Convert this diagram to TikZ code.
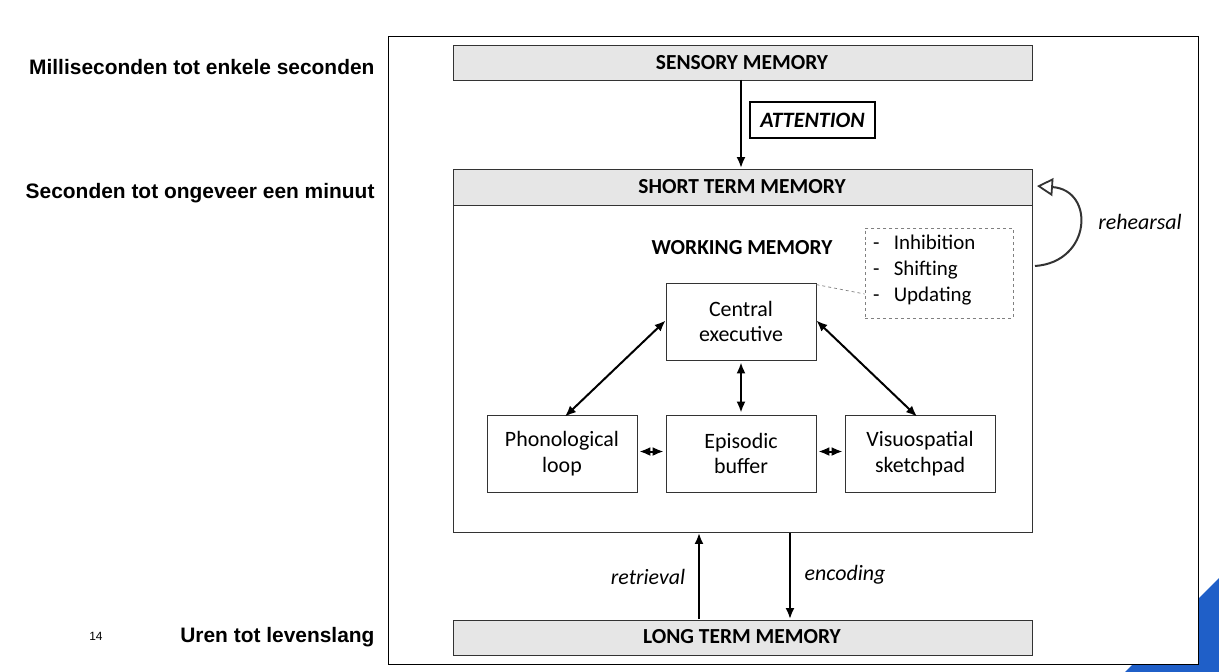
\documentclass[tikz,border=0pt]{standalone}
\usepackage{fontspec}
\setmainfont{Carlito}
\newfontfamily\arialf{Liberation Sans}
\usetikzlibrary{arrows.meta}
\definecolor{hdr}{HTML}{E6E6E6}
\definecolor{bl}{HTML}{1F5FC8}
\definecolor{ln}{HTML}{333333}
\begin{document}
\begin{tikzpicture}[x=1bp,y=-1bp,
  box/.style={draw=ln,line width=0.8pt,fill=white},
  gbox/.style={draw=ln,line width=1pt,fill=hdr},
  ttl/.style={font=\fontsize{21.5}{24}\selectfont\bfseries},
  txt/.style={font=\fontsize{22}{26}\selectfont,align=center},
  arr/.style={line width=2pt,-{Latex[length=11pt,width=9pt]}},
  darr/.style={line width=2pt,{Latex[length=11pt,width=9pt]}-{Latex[length=11pt,width=9pt]}},
  lbl/.style={font=\fontsize{22}{26}\selectfont\itshape},
  side/.style={font=\arialf\fontsize{21}{24}\selectfont\bfseries,anchor=east}]
\useasboundingbox (0,0) rectangle (1219,672);
\fill[bl] (1219,578) -- (1125,672) -- (1219,672) -- cycle;
\draw[fill=white,line width=1pt] (388,36) rectangle (1198,664);
% side labels
\node[side] (s1) at (378,67) {Milliseconden tot enkele seconden};
\node[side] (s2) at (378,193) {Seconden tot ongeveer een minuut};
\node[side] (s3) at (378,637) {Uren tot levenslang};
\node[font=\arialf\fontsize{12}{14}\selectfont] (pg) at (96,636) {14};
% sensory
\draw[gbox] (453,45) rectangle (1032,80);
\node[ttl] (sm) at (742,63) {SENSORY MEMORY};
\coordinate (smb) at (741,80);
\coordinate (stt) at (741,168);
\draw[arr] (smb) -- (stt);
\node[draw=black,line width=2pt,minimum width=125bp,minimum height=36bp,inner sep=0pt,font=\fontsize{22}{26}\selectfont\bfseries\itshape] (att) at (812.5,120) {ATTENTION};
% STM
\draw[box,line width=1pt] (453,169) rectangle (1032,532);
\draw[gbox] (453,169) rectangle (1032,205);
\node[ttl] (stm) at (742,187) {SHORT TERM MEMORY};
\node[ttl] (wm) at (742,248) {WORKING MEMORY};
\node[draw=gray,dashed,line width=0.7pt,minimum width=148bp,minimum height=90bp,inner sep=0pt] (ex) at (939,273) {};
\node[font=\fontsize{21}{26}\selectfont,align=left,anchor=north west,inner sep=0pt] (exl) at (873,235) {-\ \ \ Inhibition\\-\ \ \ Shifting\\-\ \ \ Updating};
\node[box,minimum width=150bp,minimum height=77bp,txt] (ce) at (741,321.5) {Central\\executive};
\draw[gray,dashed,line width=0.7pt] (ce.north east) ++(0,2) -- (ex.west |- 0,294);
\node[box,minimum width=150bp,minimum height=77bp,txt] (pl) at (562,453.5) {Phonological\\loop};
\node[box,minimum width=150bp,minimum height=77bp,txt] (eb) at (741,453.5) {Episodic\\buffer};
\node[box,minimum width=150bp,minimum height=77bp,txt] (vs) at (920,453.5) {Visuospatial\\sketchpad};
\draw[darr] ([yshift=1pt]ce.west) -- ([xshift=3pt,yshift=-2pt]pl.north);
\draw[darr] ([yshift=1pt]ce.east) -- ([xshift=-3pt,yshift=-2pt]vs.north);
\draw[darr] ([yshift=-2pt]ce.south) -- ([yshift=2pt]eb.north);
\draw[darr] ([xshift=2pt,yshift=2pt]pl.east) -- ([xshift=-2pt,yshift=2pt]eb.west);
\draw[darr] ([xshift=2pt,yshift=2pt]eb.east) -- ([xshift=-2pt,yshift=2pt]vs.west);
% rehearsal
\coordinate (r1) at (1035,266);
\coordinate (r2) at (1037,186);
\draw[line width=2pt,draw=ln,-{Triangle[open,length=16pt,width=18pt,line width=1.8pt]}] (r1) .. controls (1092,262) and (1095,190) .. (r2);
\node[lbl] (reh) at (1140,222) {rehearsal};
% LTM
\draw[gbox] (453,620) rectangle (1032,655);
\node[ttl] (ltm) at (742,637) {LONG TERM MEMORY};
\coordinate (rb) at (699,619); \coordinate (rt) at (699,533);
\coordinate (et) at (790,533); \coordinate (eb2) at (790,619);
\draw[arr] (rb) -- (rt);
\draw[arr] (et) -- (eb2);
\node[lbl] (ret) at (648,577) {retrieval};
\node[lbl] (enc) at (845,575) {encoding};
\end{tikzpicture}
\end{document}
